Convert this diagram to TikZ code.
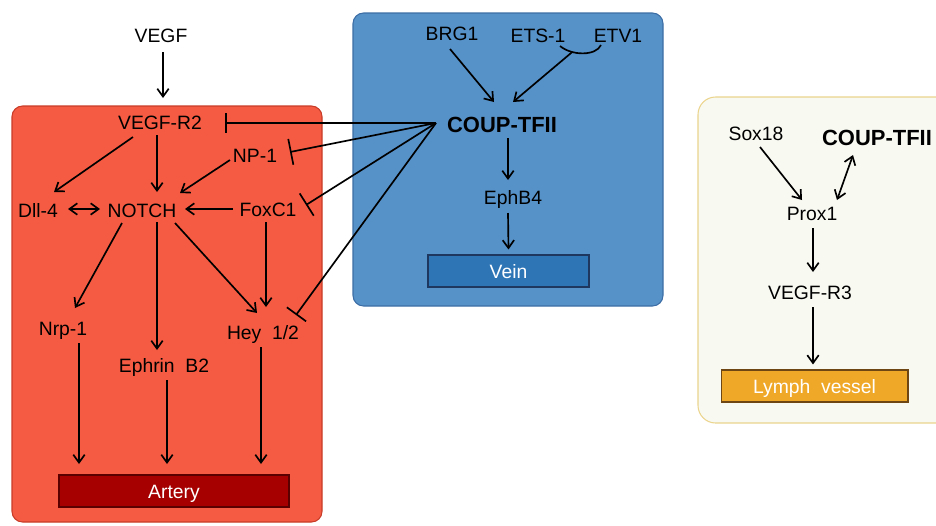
\documentclass[tikz,border=0pt]{standalone}
\usepackage{fontspec}
\setmainfont{Liberation Sans}
\usetikzlibrary{arrows.meta,calc}
\definecolor{redbox}{RGB}{245,91,66}
\definecolor{redline}{RGB}{200,60,40}
\definecolor{bluebox}{RGB}{86,145,200}
\definecolor{blueline}{RGB}{60,110,165}
\definecolor{veinfill}{RGB}{46,117,182}
\definecolor{veinline}{RGB}{30,55,95}
\definecolor{arteryfill}{RGB}{166,0,0}
\definecolor{arteryline}{RGB}{90,0,0}
\definecolor{lymphbg}{RGB}{248,250,242}
\definecolor{lymphline}{RGB}{235,212,140}
\definecolor{lymphfill}{RGB}{240,168,40}
\definecolor{lymphbord}{RGB}{110,70,20}
\begin{document}
\begin{tikzpicture}[x=0.02cm,y=-0.02cm,
  lbl/.style={font=\fontsize{11}{13}\selectfont, inner sep=2pt, text height=9.5pt, text depth=1.5pt},
  boldlbl/.style={lbl, font=\fontsize{12.5}{15}\selectfont\bfseries},
  fatebox/.style={lbl, text=white, minimum height=0.64cm, line width=0.6pt},
  act/.style={draw=black, line width=0.95pt, -{Straight Barb[length=4.5pt,width=6.5pt]}},
  bact/.style={draw=black, line width=0.95pt, {Straight Barb[length=4.5pt,width=6.5pt]}-{Straight Barb[length=4.5pt,width=6.5pt]}},
  inh/.style={draw=black, line width=0.95pt, -{Bar[width=#1]}},
  area/.style={line width=0.6pt, rounded corners=6pt}
]
\clip (0,0) rectangle (936,525);
% background areas
\draw[area, fill=redbox, draw=redline] (12,106) rectangle (322,522);
\draw[area, fill=bluebox, draw=blueline] (353,13) rectangle (663,306);
\draw[area, fill=lymphbg, draw=lymphline, rounded corners=10pt] (698,97) rectangle (980,423);

% artery nodes
\node[lbl] (vegf) at (161,35) {VEGF};
\node[lbl] (vegfr2) at (160,122) {VEGF-R2};
\node[lbl] (np1) at (255,155) {NP-1};
\node[lbl] (dll4) at (38,210) {Dll-4};
\node[lbl] (notch) at (142,210) {NOTCH};
\node[lbl] (foxc1) at (268,209) {FoxC1};
\node[lbl] (nrp1) at (63,328) {Nrp-1};
\node[lbl] (ephb2) at (164,365) {Ephrin\ \ B2};
\node[lbl] (hey) at (263,332) {Hey\ \ 1/2};
\node[fatebox, draw=arteryline, fill=arteryfill, minimum width=4.6cm] (artery) at (174,491) {Artery};

% vein nodes
\node[lbl] (brg1) at (452,33) {BRG1};
\node[lbl] (ets1) at (538,35) {ETS-1};
\node[lbl] (etv1) at (618,35) {ETV1};
\node[boldlbl] (coup) at (502,125) {COUP-TFII};
\node[lbl] (ephb4) at (513,197) {EphB4};
\node[fatebox, draw=veinline, fill=veinfill, minimum width=3.22cm] (vein) at (508.5,271) {Vein};

% lymph nodes
\node[lbl] (sox18) at (756,133) {Sox18};
\node[boldlbl] (coupL) at (877,138) {COUP-TFII};
\node[lbl] (prox1) at (812,213) {Prox1};
\node[lbl] (vegfr3) at (810,292) {VEGF-R3};
\node[fatebox, draw=lymphbord, fill=lymphfill, minimum width=3.74cm] (lymph) at (814.5,386) {Lymph\ \ vessel};

% artery connectors
\draw[act] ($(vegf)+(2,17)$) -- ($(vegfr2)+(3,-24)$);
\draw[act] ($(vegfr2)+(-27,15)$) -- ($(dll4)+(16,-18)$);
\draw[act] ($(vegfr2)+(-3,13)$) -- ($(notch)+(15,-18)$);
\draw[act] ($(np1)+(-25,5)$) -- ($(notch)+(38,-17)$);
\draw[bact] ($(dll4)+(30,-1)$) -- ($(notch)+(-42,-1)$);
\draw[act] ($(foxc1)+(-35,0)$) -- ($(notch)+(43,-1)$);
\draw[act] ($(notch)+(-20,13)$) -- ($(nrp1)+(12,-20)$);
\draw[act] ($(notch)+(15,12)$) -- ($(ephb2)+(-7,-15)$);
\draw[act] ($(notch)+(33,13)$) -- ($(hey)+(-6,-19)$);
\draw[act] ($(foxc1)+(-2,13)$) -- ($(hey)+(3,-25)$);
\draw[act] ($(nrp1)+(16,15)$) -- ($(artery)+(-95,-27)$);
\draw[act] ($(ephb2)+(3,15)$) -- ($(artery)+(-7,-27)$);
\draw[act] ($(hey)+(-2,15)$) -- ($(artery)+(87,-27)$);

% vein connectors
\draw[act] ($(brg1)+(-2,16)$) -- ($(coup)+(-8,-23)$);
\draw[line width=0.95pt] ($(ets1)+(22,11)$) .. controls ($(ets1)+(34,21)$) and ($(etv1)+(-22,21)$) .. ($(etv1)+(-17,10)$) coordinate[pos=0.28] (join);
\draw[act] (join) -- ($(coup)+(11,-23)$);
\draw[act] ($(coup)+(6,13)$) -- ($(ephb4)+(-5,-17)$);
\draw[act] ($(ephb4)+(-5,16)$) -- ($(vein.north)+(0,-5)$);

% inhibition from COUP-TFII
\draw[inh=11pt] ($(coup)+(-66,-2)$) -- ($(vegfr2)+(65,1)$);
\draw[inh=15pt] ($(coup)+(-66,-2)$) -- ($(np1)+(35,-3)$);
\draw[inh=15pt] ($(coup)+(-66,-2)$) -- ($(foxc1)+(38,-4)$);
\draw[inh=13.5pt] ($(coup)+(-66,-2)$) -- ($(hey)+(33,-17)$);

% lymph connectors
\draw[act] ($(sox18)+(4,14)$) -- ($(prox1)+(-10,-13)$);
\draw[bact] ($(coupL)+(-24,17)$) -- ($(prox1)+(25,-13)$);
\draw[act] ($(prox1)+(1,15)$) -- ($(vegfr3)+(3,-20)$);
\draw[act] ($(vegfr3)+(3,15)$) -- ($(lymph.north)+(-1.5,-5)$);
\end{tikzpicture}
\end{document}
